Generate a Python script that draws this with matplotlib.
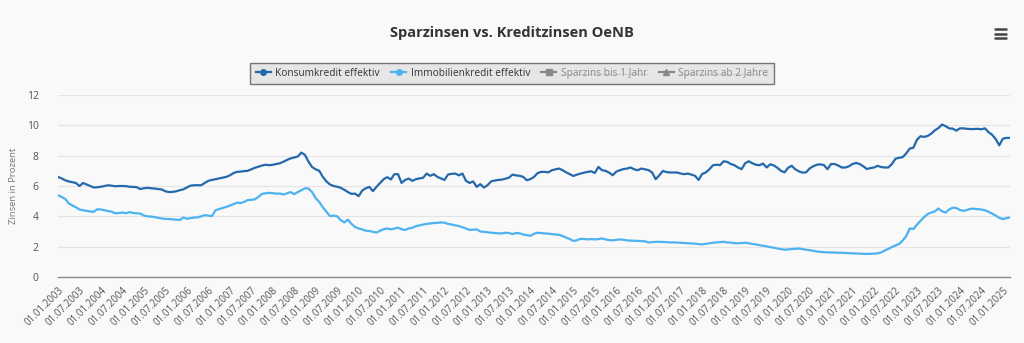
import matplotlib
matplotlib.use('Agg')
import matplotlib.pyplot as plt
from matplotlib.lines import Line2D

plt.rcParams['font.family'] = ['Open Sans', 'DejaVu Sans']

# monthly values, 01.2003 .. 03.2025
konsum = [
    6.6, 6.5, 6.38, 6.3, 6.25, 6.2, 6.0, 6.2, 6.1, 6.0, 5.9, 5.92,          # 2003
    5.95, 6.0, 6.05, 6.02, 5.98, 6.0, 6.0, 5.99, 5.95, 5.94, 5.92, 5.8,     # 2004
    5.85, 5.88, 5.85, 5.83, 5.8, 5.77, 5.65, 5.6, 5.61, 5.65, 5.72, 5.78,   # 2005
    5.9, 6.02, 6.05, 6.05, 6.05, 6.2, 6.34, 6.4, 6.45, 6.5, 6.55, 6.6,      # 2006
    6.7, 6.85, 6.93, 6.95, 6.98, 7.0, 7.1, 7.2, 7.27, 7.35, 7.4, 7.37,      # 2007
    7.4, 7.45, 7.5, 7.6, 7.72, 7.82, 7.88, 7.95, 8.2, 8.05, 7.6, 7.25,      # 2008
    7.1, 7.0, 6.6, 6.3, 6.1, 6.0, 5.95, 5.88, 5.75, 5.6, 5.48, 5.5,         # 2009
    5.33, 5.7, 5.85, 5.94, 5.66, 5.95, 6.2, 6.45, 6.58, 6.43, 6.78, 6.78,   # 2010
    6.2, 6.4, 6.49, 6.34, 6.45, 6.5, 6.54, 6.82, 6.67, 6.78, 6.6, 6.5,      # 2011
    6.4, 6.76, 6.8, 6.82, 6.7, 6.82, 6.34, 6.2, 6.3, 5.94, 6.12, 5.9,       # 2012
    6.05, 6.3, 6.36, 6.4, 6.42, 6.48, 6.55, 6.75, 6.7, 6.67, 6.6, 6.38,     # 2013
    6.45, 6.6, 6.85, 6.93, 6.93, 6.9, 7.04, 7.1, 7.15, 7.04, 6.9, 6.78,     # 2014
    6.66, 6.75, 6.82, 6.88, 6.93, 6.97, 6.86, 7.26, 7.04, 7.0, 6.88, 6.71,  # 2015
    6.95, 7.04, 7.12, 7.15, 7.22, 7.1, 7.04, 7.15, 7.1, 7.05, 6.89, 6.45,   # 2016
    6.7, 6.99, 6.92, 6.89, 6.89, 6.89, 6.82, 6.78, 6.82, 6.75, 6.67, 6.4,   # 2017
    6.8, 6.89, 7.1, 7.37, 7.4, 7.38, 7.63, 7.59, 7.45, 7.37, 7.22, 7.11,    # 2018
    7.5, 7.63, 7.5, 7.4, 7.37, 7.48, 7.22, 7.43, 7.36, 7.2, 7.0, 6.9,       # 2019
    7.2, 7.33, 7.1, 6.97, 6.88, 6.9, 7.15, 7.3, 7.4, 7.43, 7.38, 7.11,      # 2020
    7.45, 7.45, 7.35, 7.22, 7.22, 7.3, 7.45, 7.52, 7.45, 7.3, 7.12, 7.18,   # 2021
    7.22, 7.33, 7.25, 7.22, 7.22, 7.45, 7.8, 7.86, 7.9, 8.15, 8.47, 8.52,   # 2022
    9.05, 9.28, 9.24, 9.3, 9.45, 9.67, 9.82, 10.05, 9.95, 9.8, 9.78, 9.65,  # 2023
    9.8, 9.8, 9.77, 9.75, 9.76, 9.77, 9.74, 9.8, 9.55, 9.38, 9.1, 8.68,     # 2024
    9.12, 9.17, 9.17,                                                        # 2025
]

immo = [
    5.39, 5.28, 5.15, 4.85, 4.72, 4.6, 4.45, 4.4, 4.36, 4.32, 4.3, 4.47,    # 2003
    4.45, 4.4, 4.35, 4.3, 4.2, 4.22, 4.25, 4.2, 4.28, 4.22, 4.2, 4.18,      # 2004
    4.05, 4.0, 3.98, 3.95, 3.9, 3.86, 3.83, 3.82, 3.8, 3.78, 3.76, 3.92,    # 2005
    3.84, 3.88, 3.92, 3.93, 4.0, 4.08, 4.05, 4.01, 4.4, 4.48, 4.55, 4.62,   # 2006
    4.7, 4.8, 4.9, 4.88, 4.95, 5.07, 5.09, 5.12, 5.28, 5.48, 5.52, 5.55,    # 2007
    5.52, 5.5, 5.5, 5.44, 5.52, 5.6, 5.46, 5.6, 5.72, 5.85, 5.83, 5.6,      # 2008
    5.2, 4.95, 4.6, 4.3, 4.01, 4.05, 4.0, 3.75, 3.6, 3.78, 3.5, 3.3,        # 2009
    3.2, 3.14, 3.05, 3.03, 2.98, 2.93, 3.05, 3.15, 3.2, 3.14, 3.2, 3.25,    # 2010
    3.15, 3.1, 3.2, 3.25, 3.35, 3.4, 3.46, 3.5, 3.53, 3.56, 3.57, 3.6,      # 2011
    3.58, 3.5, 3.46, 3.4, 3.36, 3.28, 3.2, 3.1, 3.12, 3.14, 3.0, 2.98,      # 2012
    2.95, 2.92, 2.9, 2.88, 2.87, 2.92, 2.9, 2.83, 2.9, 2.88, 2.8, 2.76,     # 2013
    2.72, 2.85, 2.92, 2.9, 2.87, 2.86, 2.83, 2.8, 2.78, 2.7, 2.6, 2.5,      # 2014
    2.38, 2.42, 2.52, 2.5, 2.48, 2.5, 2.48, 2.5, 2.54, 2.48, 2.43, 2.42,    # 2015
    2.45, 2.48, 2.45, 2.41, 2.4, 2.39, 2.38, 2.37, 2.35, 2.28, 2.3, 2.32,   # 2016
    2.32, 2.31, 2.3, 2.28, 2.28, 2.27, 2.26, 2.24, 2.23, 2.21, 2.2, 2.17,   # 2017
    2.15, 2.18, 2.22, 2.26, 2.28, 2.3, 2.32, 2.28, 2.27, 2.23, 2.22, 2.24,  # 2018
    2.26, 2.22, 2.18, 2.15, 2.1, 2.06, 2.02, 1.97, 1.93, 1.88, 1.84, 1.8,   # 2019
    1.82, 1.84, 1.86, 1.88, 1.84, 1.8, 1.77, 1.73, 1.68, 1.66, 1.64, 1.62,  # 2020
    1.62, 1.61, 1.6, 1.6, 1.58, 1.57, 1.56, 1.55, 1.54, 1.53, 1.52, 1.53,   # 2021
    1.54, 1.56, 1.62, 1.75, 1.85, 1.98, 2.08, 2.18, 2.4, 2.7, 3.2, 3.16,    # 2022
    3.45, 3.7, 3.95, 4.15, 4.25, 4.32, 4.52, 4.33, 4.25, 4.45, 4.57, 4.55,  # 2023
    4.42, 4.36, 4.42, 4.5, 4.5, 4.47, 4.45, 4.4, 4.3, 4.18, 4.05, 3.9,      # 2024
    3.82, 3.88, 3.93,                                                        # 2025
]

# category labels, one per month
dates = ['01.%02d.%d' % (m, y) for y in range(2003, 2026) for m in range(1, 13)][:len(konsum)]
tick_pos = list(range(0, len(dates), 6))
tick_labels = [dates[i] for i in tick_pos]

series_names = ['Konsumkredit effektiv', 'Immobilienkredit effektiv',
                'Sparzins bis 1 Jahr', 'Sparzins ab 2 Jahre']
dark_blue = '#2369ab'
light_blue = '#4cb2f0'
bg = '#f9f9f9'

fig = plt.figure(figsize=(10.24, 3.43), dpi=100, facecolor=bg)
ax = fig.add_axes([58 / 1024, 66 / 343, 952 / 1024, 182 / 343], facecolor=bg)

x = list(range(len(konsum)))
ax.plot(x, konsum, color=dark_blue, linewidth=1.6, solid_joinstyle='round')
ax.plot(x, immo, color=light_blue, linewidth=1.6, solid_joinstyle='round')

ax.set_xlim(0, len(konsum) - 1)
ax.set_ylim(0, 12)
ax.set_yticks(range(0, 13, 2))
ax.grid(axis='y', color='#e4e4e4', linewidth=0.8)
ax.set_axisbelow(True)
for s in ['top', 'right', 'left']:
    ax.spines[s].set_visible(False)
ax.spines['bottom'].set_color('#888888')
ax.spines['bottom'].set_linewidth(1.0)

ax.set_xticks(tick_pos)
ax.set_xticklabels(tick_labels, rotation=45, ha='right', rotation_mode='anchor',
                   fontsize=7, color='#555555')
ax.tick_params(axis='x', length=0, pad=6)
ax.tick_params(axis='y', length=0, pad=14, labelsize=7.5, labelcolor='#555555')
ax.set_ylabel('Zinsen in Prozent', fontsize=6.8, color='#777777', labelpad=6)

fig.text(0.5, 1 - 33 / 343, 'Sparzinsen vs. Kreditzinsen OeNB', ha='center', va='center',
         fontsize=10.5, fontweight='bold', color='#333333')

# hamburger menu icon
for yy in [29, 33.5, 38]:
    fig.add_artist(Line2D([995 / 1024, 1006 / 1024], [1 - yy / 343, 1 - yy / 343],
                          color='#444444', linewidth=1.8, solid_capstyle='round'))

# legend
handles = [
    Line2D([], [], color=dark_blue, marker='o', markersize=4, linewidth=1.6),
    Line2D([], [], color=light_blue, marker='o', markersize=4, linewidth=1.6),
    Line2D([], [], color='#888888', marker='s', markersize=4, linewidth=1.6),
    Line2D([], [], color='#888888', marker='^', markersize=4, linewidth=1.6),
]
leg = fig.legend(handles, series_names, loc='center', bbox_to_anchor=(0.5, 1 - 73.5 / 343),
                 ncol=4, frameon=True, fancybox=False, fontsize=7.3, handlelength=1.5,
                 handletextpad=0.45, columnspacing=1.1, borderpad=0.5)
leg.get_frame().set_facecolor('#e2e2e2')
leg.get_frame().set_edgecolor('#555555')
leg.get_frame().set_linewidth(1.0)
texts = leg.get_texts()
texts[0].set_color('#333333')
texts[1].set_color('#333333')
texts[2].set_color('#8a8a8a')
texts[3].set_color('#8a8a8a')

# strike through the hidden series
fig.canvas.draw()
renderer = fig.canvas.get_renderer()
for t in texts[2:]:
    bb = t.get_window_extent(renderer).transformed(fig.transFigure.inverted())
    ym = bb.y0 + bb.height * 0.45
    fig.add_artist(Line2D([bb.x0, bb.x1], [ym, ym], color='#8a8a8a', linewidth=0.8))

fig.savefig('out.png', dpi=100, facecolor=bg)
